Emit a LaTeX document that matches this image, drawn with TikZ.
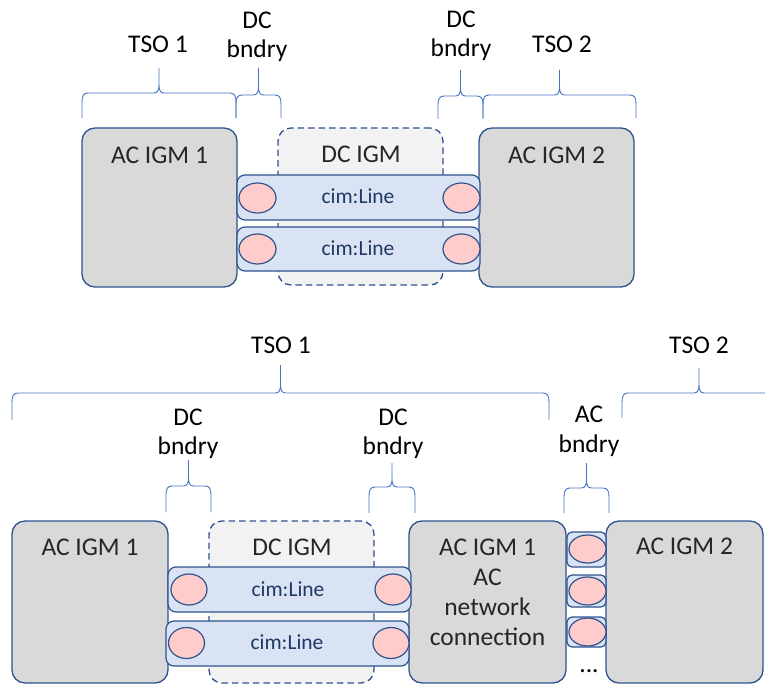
\documentclass[tikz,border=0pt]{standalone}
\usepackage{fontspec}
\setmainfont{Carlito}
\usetikzlibrary{shapes.geometric}
\definecolor{bord}{HTML}{2F528F}
\definecolor{brc}{HTML}{4472C4}
\definecolor{igmgray}{HTML}{D9D9D9}
\definecolor{dcfill}{HTML}{F2F2F2}
\definecolor{linefill}{HTML}{DAE3F3}
\definecolor{pinkfill}{HTML}{FFCCCC}
\definecolor{txtdark}{HTML}{262626}
\definecolor{linetxt}{HTML}{203864}
\newcommand{\obrace}[5]{% x1, x2, y bottom, y horizontal, y tip
  \pgfmathsetmacro\xm{(#1+#2)/2}
  \draw[bracestyle] (#1,#3) -- (#1,#4+9) .. controls (#1,#4+3) and (#1+1.5,#4) .. (#1+6,#4)
    -- (\xm-5,#4) .. controls (\xm-1.5,#4) and (\xm,#4-3) .. (\xm,#4-8) -- (\xm,#5)
    (\xm,#4-8) .. controls (\xm,#4-3) and (\xm+1.5,#4) .. (\xm+5,#4)
    -- (#2-6,#4) .. controls (#2-1.5,#4) and (#2,#4+3) .. (#2,#4+9) -- (#2,#3);
}
\begin{document}
\begin{tikzpicture}[x=1pt,y=-1pt,
  igm/.style={draw=bord, fill=igmgray, line width=1.3pt, rounded corners=13pt, inner sep=0, outer sep=0},
  dcigm/.style={draw=bord, fill=dcfill, line width=1.3pt, dash pattern=on 6.5pt off 4pt, rounded corners=13pt, inner sep=0, outer sep=0},
  cimline/.style={draw=bord, fill=linefill, line width=1.2pt, rounded corners=8pt, inner sep=0, outer sep=0},
  acline/.style={draw=bord, fill=linefill, line width=1.2pt, rounded corners=5pt, inner sep=0, outer sep=0},
  term/.style={ellipse, draw=bord, fill=pinkfill, line width=1.2pt, minimum width=37pt, minimum height=30pt, inner sep=0},
  bracestyle/.style={draw=brc, line width=0.9pt},
  lbl/.style={anchor=base, font=\fontsize{25.5}{30}\selectfont, inner sep=0},
  boxtxt/.style={lbl, text=txtdark},
  cimtxt/.style={anchor=base, font=\fontsize{21.5}{25}\selectfont, text=linetxt, inner sep=0}]
\useasboundingbox (0,0) rectangle (765,684);

% ================= TOP DIAGRAM =================
\node[igm, minimum width=155pt, minimum height=159pt] (tA1) at (159.5,207.5) {};
\node[igm, minimum width=155pt, minimum height=159pt] (tA2) at (556.5,207.5) {};
\node[dcigm, minimum width=165pt, minimum height=157pt] (tDC) at (360.5,206.5) {};
\node[cimline, minimum width=243pt, minimum height=45pt] (tL1) at (358.5,197.5) {};
\node[cimline, minimum width=243pt, minimum height=44pt] (tL2) at (358.5,249) {};
\node[term] (tE1a) at (257.5,198) {};
\node[term] (tE1b) at (461.5,198) {};
\node[term] (tE2a) at (257.5,249) {};
\node[term] (tE2b) at (461.5,249) {};

\node[boxtxt] (tA1t) at (159.5,164) {AC IGM 1};
\node[boxtxt] (tA2t) at (556.5,164) {AC IGM 2};
\node[boxtxt] (tDCt) at (361,163) {DC IGM};
\node[cimtxt] (tL1t) at (358,204) {cim:Line};
\node[cimtxt] (tL2t) at (358,256) {cim:Line};

\obrace{82}{236}{118}{93}{68}
\obrace{236}{281}{118}{95}{68}
\obrace{438}{483}{119}{96}{70}
\obrace{483}{636}{118}{95}{70}
\node[lbl] (tTSO1) at (158,53) {TSO 1};
\node[lbl] (tDC1a) at (257,29) {DC};
\node[lbl] (tDC1b) at (257,58) {bndry};
\node[lbl] (tDC2a) at (461,28) {DC};
\node[lbl] (tDC2b) at (461,57) {bndry};
\node[lbl] (tTSO2) at (562,53) {TSO 2};

% ================= BOTTOM DIAGRAM =================
\node[igm, minimum width=156pt, minimum height=162pt] (bA1) at (90,602) {};
\node[dcigm, minimum width=165pt, minimum height=162pt] (bDC) at (291.5,602) {};
\node[igm, minimum width=157pt, minimum height=162pt] (bN) at (487.5,602) {};
\node[igm, minimum width=157pt, minimum height=162pt] (bA2) at (684.5,602) {};
\node[cimline, minimum width=243pt, minimum height=45pt] (bL1) at (289.5,589.5) {};
\node[cimline, minimum width=243pt, minimum height=45pt] (bL2) at (287.5,643.5) {};
\node[term, minimum width=36pt, minimum height=31pt] (bE1a) at (189,589.5) {};
\node[term, minimum width=36pt, minimum height=31pt] (bE1b) at (393,589.5) {};
\node[term, minimum width=36pt, minimum height=31pt] (bE2a) at (186.5,643) {};
\node[term, minimum width=36pt, minimum height=31pt] (bE2b) at (391,643) {};

\node[acline, minimum width=39pt, minimum height=35pt] (bS1) at (586.5,549.5) {};
\node[acline, minimum width=39pt, minimum height=32pt] (bS2) at (586.5,591) {};
\node[acline, minimum width=39pt, minimum height=30pt] (bS3) at (586.5,632) {};
\node[term, minimum width=37pt, minimum height=28pt] (bT1) at (587.5,549) {};
\node[term, minimum width=37pt, minimum height=28pt] (bT2) at (587.5,591) {};
\node[term, minimum width=37pt, minimum height=28pt] (bT3) at (587.5,632) {};
\node[lbl] (bdots) at (589,672) {...};

\node[boxtxt] (bA1t) at (90,555) {AC IGM 1};
\node[boxtxt] (bDCt) at (292,555) {DC IGM};
\node[boxtxt] (bNt1) at (487.5,555) {AC IGM 1};
\node[boxtxt] (bNt2) at (487.5,585) {AC};
\node[boxtxt] (bNt3) at (487.5,615) {network};
\node[boxtxt] (bNt4) at (487.5,645) {connection};
\node[boxtxt] (bA2t) at (684.5,554) {AC IGM 2};
\node[cimtxt] (bL1t) at (288,596) {cim:Line};
\node[cimtxt] (bL2t) at (287,649) {cim:Line};

\begin{scope}
\clip (0,0) rectangle (765,684);
\obrace{12}{549}{420}{393}{365}
\obrace{622}{776}{418}{393}{368}
\obrace{166}{211}{512}{486}{460}
\obrace{369}{415}{513}{487}{463}
\obrace{564}{609}{513}{488}{463}
\end{scope}
\node[lbl] (bTSO1) at (281,353) {TSO 1};
\node[lbl] (bTSO2) at (699,353) {TSO 2};
\node[lbl] (bDC1a) at (188,425) {DC};
\node[lbl] (bDC1b) at (188,454) {bndry};
\node[lbl] (bDC2a) at (393,425) {DC};
\node[lbl] (bDC2b) at (393,454) {bndry};
\node[lbl] (bACa) at (589,422) {AC};
\node[lbl] (bACb) at (589,452) {bndry};
\end{tikzpicture}
\end{document}
